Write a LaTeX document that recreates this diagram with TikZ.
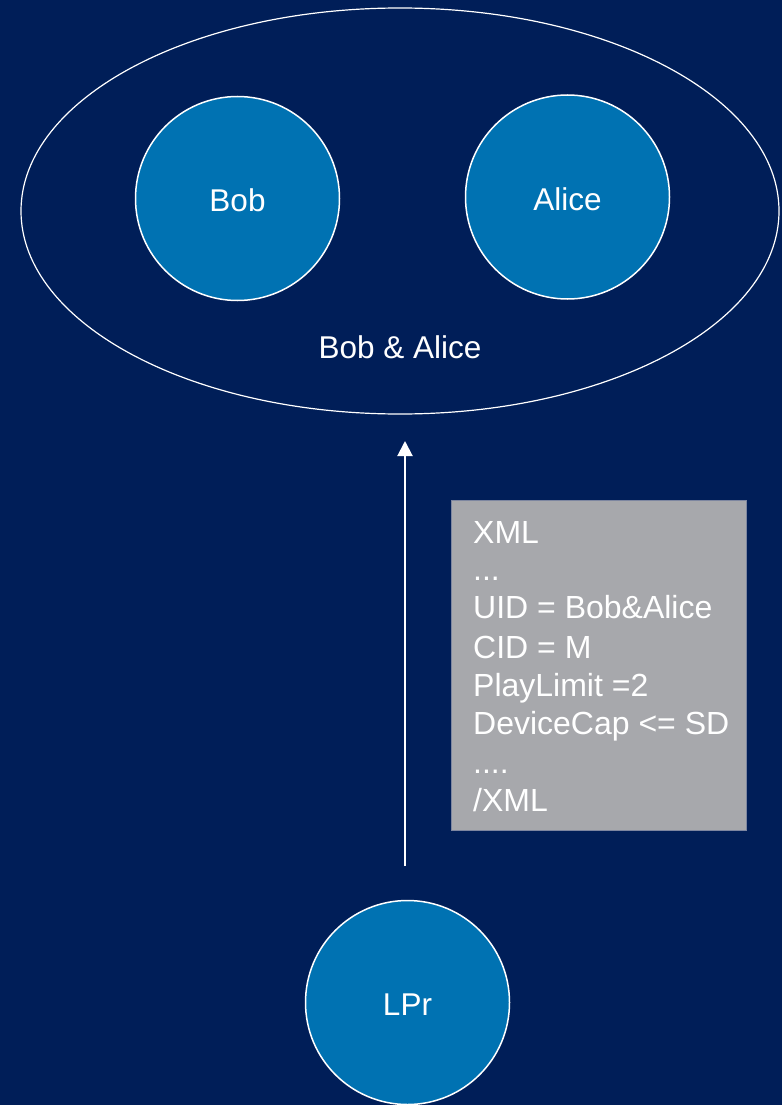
\documentclass[tikz,border=0pt]{standalone}
\usepackage{fontspec}
\setmainfont{Liberation Sans}
\usetikzlibrary{arrows.meta}
\definecolor{navy}{RGB}{0,30,88}
\definecolor{party}{RGB}{0,114,178}
\definecolor{boxgray}{RGB}{167,168,172}
\definecolor{boxedge}{RGB}{125,134,160}
\begin{document}
\begin{tikzpicture}[x=1pt,y=-1pt,
  party/.style={circle,fill=party,draw=white,line width=1.5pt,minimum size=204pt,inner sep=0pt},
  lbl/.style={text=white,font=\fontsize{31.5}{37}\selectfont,anchor=base,inner sep=0pt},
  xmlline/.style={text=white,font=\fontsize{32}{37}\selectfont,anchor=base west,inner sep=0pt}]
  % background
  \fill[navy] (0,0) rectangle (782,1105);
  \useasboundingbox (0,0) rectangle (782,1105);
  % group ellipse
  \draw[white,line width=1.2pt] (400,211) ellipse [x radius=379, y radius=203];
  \node[lbl] (grp) at (400,358) {Bob \& Alice};
  % parties
  \node[party] (bob) at (237.5,198.5) {};
  \node[lbl] (bobt) at (237.5,211.5) {Bob};
  \node[party] (alice) at (567.5,197) {};
  \node[lbl] (alicet) at (567.5,210) {Alice};
  \node[party] (lpr) at (407.5,1002.5) {};
  \node[lbl] (lprt) at (407.5,1015) {LPr};
  % licence arrow
  \coordinate (from) at (405,866);
  \coordinate (to) at (405,441);
  \draw[white,line width=2pt,-{Triangle[width=15pt,length=15pt]}] (from) -- (to);
  % licence document
  \draw[fill=boxgray,draw=boxedge,line width=1pt] (451,500) rectangle (746,830);
  \node[xmlline] (x1) at (473,543) {XML};
  \node[xmlline] (x2) at (473,580) {...};
  \node[xmlline] (x3) at (473,618.5) {UID = Bob\&Alice};
  \node[xmlline] (x4) at (473,658) {CID = M};
  \node[xmlline] (x5) at (473,696) {PlayLimit =2};
  \node[xmlline] (x6) at (473,734) {DeviceCap <= SD};
  \node[xmlline] (x7) at (473,773) {....};
  \node[xmlline] (x8) at (473,811) {/XML};
\end{tikzpicture}
\end{document}
